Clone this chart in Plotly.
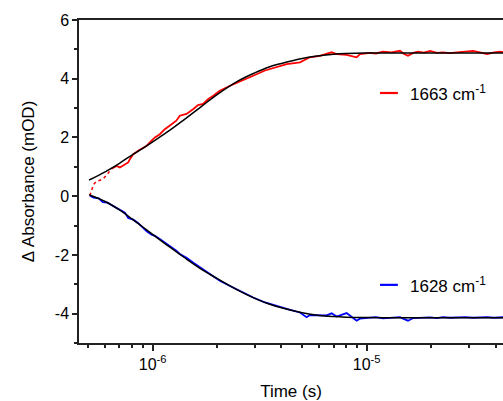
import plotly.graph_objects as go

# ---------------- data ----------------
# early (dotted) part of the 1663 cm-1 trace
red_early_t = [5.09e-7, 5.17e-7, 5.30e-7, 5.45e-7, 5.60e-7, 5.85e-7, 6.15e-7, 6.43e-7]
red_early_v = [0.02, 0.20, 0.40, 0.50, 0.53, 0.58, 0.75, 0.94]

# measured traces (time in s, Δ absorbance in mOD)
data_t = [6.43e-7, 6.79e-7, 7.03e-7, 7.42e-7, 7.69e-7, 7.83e-7, 8.12e-7, 8.57e-7, 9.04e-7,
          9.38e-7, 9.89e-7, 1.025e-6, 1.08e-6, 1.14e-6, 1.20e-6, 1.29e-6, 1.34e-6, 1.44e-6,
          1.55e-6, 1.63e-6, 1.72e-6, 1.82e-6, 1.92e-6, 2.06e-6, 2.30e-6, 2.56e-6, 2.95e-6,
          3.35e-6, 3.77e-6, 4.23e-6, 4.88e-6, 5.24e-6, 5.43e-6, 6.05e-6, 6.50e-6, 6.86e-6,
          7.24e-6, 8.06e-6, 8.98e-6, 9.30e-6, 1.036e-5, 1.105e-5, 1.19e-5, 1.31e-5, 1.43e-5,
          1.49e-5, 1.56e-5, 1.65e-5, 1.74e-5, 1.85e-5, 1.98e-5, 2.13e-5, 2.27e-5, 2.45e-5,
          2.64e-5, 2.88e-5, 3.14e-5, 3.38e-5, 3.65e-5, 3.94e-5, 4.20e-5, 4.43e-5]
red_v = [0.94, 1.03, 0.98, 1.09, 1.15, 1.26, 1.43, 1.55, 1.66,
         1.72, 1.89, 2.00, 2.11, 2.28, 2.40, 2.57, 2.74, 2.80,
         2.97, 3.10, 3.14, 3.31, 3.42, 3.59, 3.76, 3.90, 4.10,
         4.28, 4.38, 4.50, 4.56, 4.67, 4.73, 4.78, 4.84, 4.90,
         4.84, 4.81, 4.73, 4.84, 4.88, 4.86, 4.92, 4.90, 4.95,
         4.85, 4.78, 4.88, 4.92, 4.89, 4.95, 4.88, 4.90, 4.87,
         4.90, 4.93, 4.95, 4.90, 4.84, 4.90, 4.92, 4.90]

blue_t = [5.09e-7, 5.30e-7, 5.60e-7, 5.85e-7, 6.15e-7] + data_t
blue_v = [0.02, -0.05, -0.07, -0.20, -0.22,
          -0.30, -0.38, -0.45, -0.56, -0.74, -0.76, -0.80, -0.92, -1.07,
          -1.20, -1.31, -1.35, -1.46, -1.58, -1.69, -1.86, -1.97, -2.10,
          -2.27, -2.38, -2.50, -2.63, -2.72, -2.88, -3.06, -3.24, -3.45,
          -3.62, -3.74, -3.84, -3.96, -4.12, -4.05, -4.07, -4.06, -3.99,
          -4.10, -3.98, -4.24, -4.17, -4.14, -4.12, -4.16, -4.13, -4.12,
          -4.18, -4.24, -4.15, -4.14, -4.12, -4.13, -4.15, -4.12, -4.14,
          -4.13, -4.12, -4.14, -4.13, -4.12, -4.14, -4.13, -4.12]

# fitted curves
fit_t = [5.05e-7, 6e-7, 7e-7, 8e-7, 9e-7, 1e-6, 1.2e-6, 1.4e-6, 1.7e-6, 2e-6, 2.5e-6,
         3e-6, 3.5e-6, 4e-6, 5e-6, 6e-6, 7e-6, 8e-6, 1e-5, 1.3e-5, 1.7e-5, 2.2e-5,
         3e-5, 4.5e-5]
red_fit = [0.55, 0.83, 1.12, 1.40, 1.63, 1.85, 2.24, 2.60, 3.07, 3.46, 3.92,
           4.20, 4.40, 4.52, 4.69, 4.78, 4.83, 4.855, 4.875, 4.88, 4.88, 4.88,
           4.88, 4.88]
blue_fit = [0.05, -0.18, -0.47, -0.77, -1.05, -1.30, -1.73, -2.08, -2.50, -2.80, -3.20,
            -3.48, -3.67, -3.80, -3.97, -4.06, -4.10, -4.12, -4.135, -4.14, -4.14, -4.14,
            -4.14, -4.14]

series_names = ["1663 cm<sup>-1</sup>", "1628 cm<sup>-1</sup>"]
x_major = [1e-6, 1e-5]
x_major_text = ["10<sup>-6</sup>", "10<sup>-5</sup>"]
x_minor = [m * 10.0 ** e for e in (-7, -6, -5) for m in range(2, 10)]
y_major = [-4, -2, 0, 2, 4, 6]
y_minor = [-5, -3, -1, 1, 3, 5]

# ---------------- figure ----------------
FONT = "Liberation Sans, Arial, sans-serif"
fig = go.Figure()
fig.add_trace(go.Scatter(x=red_early_t, y=red_early_v, mode="lines",
                         line=dict(color="#ff0000", width=1.5, dash="dot"), showlegend=False))
fig.add_trace(go.Scatter(x=data_t, y=red_v, mode="lines",
                         line=dict(color="#ff0000", width=1.8), showlegend=False))
fig.add_trace(go.Scatter(x=blue_t, y=blue_v, mode="lines",
                         line=dict(color="#0000ff", width=1.8), showlegend=False))
fig.add_trace(go.Scatter(x=fit_t, y=red_fit, mode="lines", line_shape="spline",
                         line=dict(color="black", width=1.5), showlegend=False))
fig.add_trace(go.Scatter(x=fit_t, y=blue_fit, mode="lines", line_shape="spline",
                         line=dict(color="black", width=1.5), showlegend=False))

# legend-like labels
for name, col, yp in [(series_names[0], "#ff0000", 0.774), (series_names[1], "#0000ff", 0.180)]:
    fig.add_shape(type="line", xref="paper", yref="paper", x0=0.710, x1=0.752, y0=yp, y1=yp,
                  line=dict(color=col, width=2.2))
    fig.add_annotation(xref="paper", yref="paper", x=0.776, y=yp, text=name, showarrow=False,
                       xanchor="left", yanchor="middle", font=dict(size=17, color="black", family=FONT))

fig.update_layout(
    width=503, height=401,
    margin=dict(l=79, r=0, t=20, b=58),
    paper_bgcolor="white", plot_bgcolor="white",
    font=dict(family=FONT, size=15, color="black"),
)
fig.update_xaxes(
    type="log", range=[-6.344, -4.363],
    showline=True, linecolor="#222", linewidth=1.5, mirror=True,
    showgrid=False, zeroline=False,
    tickmode="array", tickvals=x_major, ticktext=x_major_text,
    ticks="outside", ticklen=6, tickwidth=1.5, tickcolor="#222",
    minor=dict(tickmode="array", tickvals=x_minor, ticks="outside", ticklen=3,
               tickwidth=1.5, tickcolor="#222", showgrid=False),
    tickfont=dict(size=16),
    title=dict(text="Time (s)", font=dict(size=17), standoff=14),
)
fig.update_yaxes(
    range=[-5, 6],
    showline=True, linecolor="#222", linewidth=1.5, mirror=False,
    showgrid=False, zeroline=False,
    tickmode="array", tickvals=y_major, ticktext=[str(v) for v in y_major],
    ticks="outside", ticklen=5, tickwidth=1.5, tickcolor="#222",
    minor=dict(tickmode="array", tickvals=y_minor, ticks="outside", ticklen=3,
               tickwidth=1.5, tickcolor="#222", showgrid=False),
    tickfont=dict(size=16),
    title=dict(text="Δ Absorbance (mOD)", font=dict(size=17), standoff=16),
)

fig.write_html("out.html", config={"displayModeBar": False},
               post_script="document.body.style.margin='0';document.body.style.overflow='hidden';")
